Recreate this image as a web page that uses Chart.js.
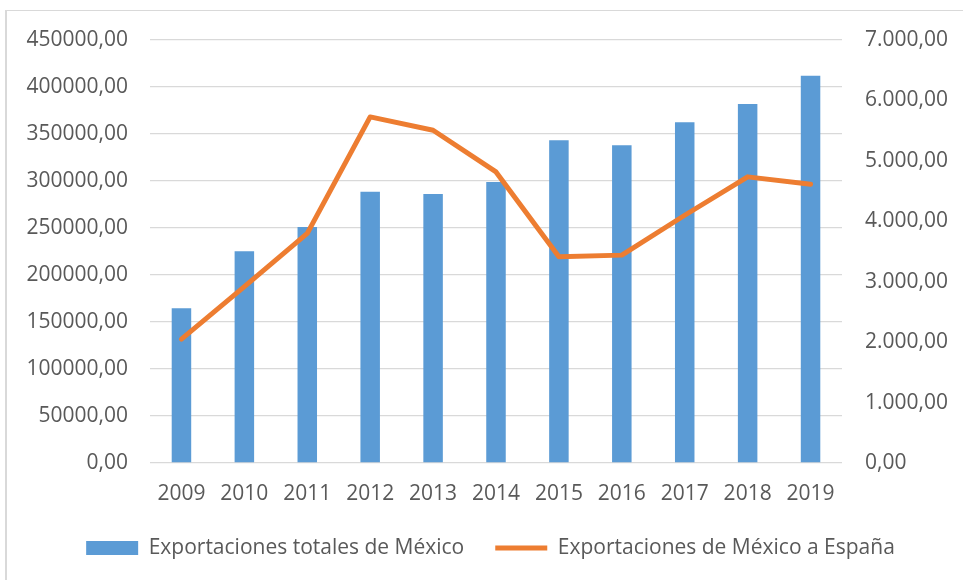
<!DOCTYPE html>
<html>
<head>
<meta charset="utf-8">
<script src="https://cdn.jsdelivr.net/npm/chart.js@4.4.1/dist/chart.umd.min.js"></script>
<style>
  html, body { margin: 0; padding: 0; background: #ffffff; }
  #wrap { position: relative; width: 963px; height: 580px; }
  #frame { position: absolute; left: 5px; top: 10px; right: 0; bottom: 0;
           border-left: 2px solid #D9D9D9; border-top: 1px solid #D9D9D9; }
  canvas { position: absolute; left: 0; top: 0; }
</style>
</head>
<body>
<div id="wrap">
  <div id="frame"></div>
  <canvas id="c" width="963" height="580"></canvas>
</div>
<script>
const categories = ['2009','2010','2011','2012','2013','2014','2015','2016','2017','2018','2019'];
const totalExports = [164600, 225200, 251100, 288600, 286200, 298900, 343300, 338000, 362400, 381900, 412000];
const spainExports = [2050, 2920, 3800, 5727, 5507, 4817, 3412, 3440, 4100, 4735, 4614];
const seriesNames = ['Exportaciones totales de México', 'Exportaciones de México a España'];

const TEXT = '#595959';
const FONT = { family: "'Open Sans', sans-serif", size: 21 };

function fmtLeft(v) { return Number(v).toFixed(2).replace('.', ','); }
function fmtRight(v) {
  const s = Number(v).toFixed(2).split('.');
  const int = s[0].replace(/\B(?=(\d{3})+(?!\d))/g, '.');
  return int + ',' + s[1];
}

const legendShift = {
  id: 'legendShift',
  afterLayout(chart) {
    if (chart.legend) { chart.legend.left += 9; chart.legend.right += 9; }
  }
};

new Chart(document.getElementById('c'), {
  data: {
    labels: categories,
    datasets: [
      {
        type: 'line',
        label: seriesNames[1],
        data: spainExports,
        yAxisID: 'y2',
        borderColor: '#ED7D31',
        backgroundColor: '#ED7D31',
        borderWidth: 5,
        borderJoinStyle: 'round',
        borderCapStyle: 'round',
        pointRadius: 0,
        pointStyle: 'line',
        tension: 0,
        order: 0
      },
      {
        type: 'bar',
        label: seriesNames[0],
        data: totalExports,
        yAxisID: 'y',
        backgroundColor: '#5B9BD5',
        borderWidth: 0,
        categoryPercentage: 1,
        barPercentage: 0.31,
        pointStyle: 'rect',
        order: 1
      }
    ]
  },
  plugins: [legendShift],
  options: {
    responsive: false,
    animation: false,
    layout: { padding: { top: 40, bottom: 11.5, left: 0, right: 0 } },
    plugins: {
      tooltip: { enabled: false },
      legend: {
        position: 'bottom',
        reverse: true,
        labels: {
          color: TEXT,
          font: FONT,
          usePointStyle: true,
          pointStyleWidth: 52,
          boxHeight: 14,
          padding: 31
        }
      }
    },
    scales: {
      x: {
        grid: { display: false },
        border: { display: false },
        ticks: { color: TEXT, font: FONT, padding: 10, maxRotation: 0 },
        afterFit(s) { s.height = 43.5; }
      },
      y: {
        position: 'left',
        min: 0, max: 450000,
        ticks: { stepSize: 50000, color: TEXT, font: FONT, padding: 22, callback: fmtLeft },
        grid: { color: '#D9D9D9', lineWidth: 1.3, drawTicks: false },
        border: { display: false },
        afterFit(s) { s.width = 150; }
      },
      y2: {
        position: 'right',
        min: 0, max: 7000,
        ticks: { stepSize: 1000, color: TEXT, font: FONT, padding: 23, callback: fmtRight },
        grid: { display: false, drawTicks: false },
        border: { display: false },
        afterFit(s) { s.width = 121; }
      }
    }
  }
});
</script>
</body>
</html>
